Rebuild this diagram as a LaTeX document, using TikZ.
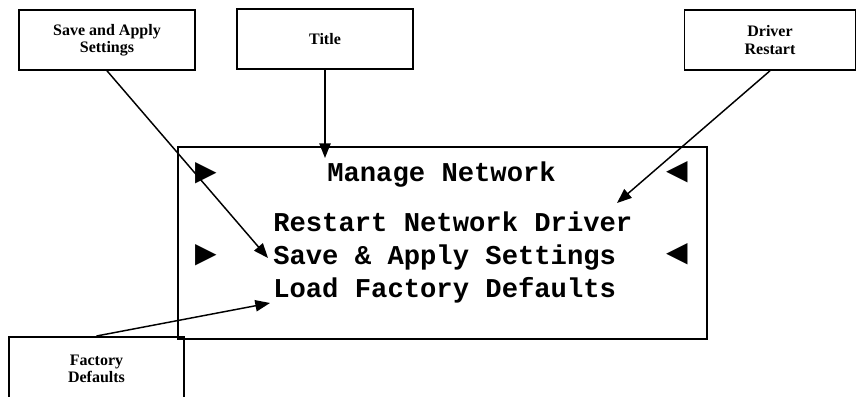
\documentclass[tikz,border=0pt]{standalone}
\usepackage{fontspec}
\setmainfont{Liberation Serif}
\newfontfamily\lcdfont{Liberation Mono}
\newfontfamily\symfont{DejaVu Sans}
\usetikzlibrary{arrows.meta,positioning}

\begin{document}
\begin{tikzpicture}[x=0.75pt,y=-0.75pt,>={Triangle[length=11pt,width=8.5pt]},
  callout/.style={draw,line width=1.2pt,align=center,inner sep=0pt,
              font=\bfseries\fontsize{12}{13}\selectfont},
  lcd/.style={anchor=base west,inner sep=0pt,
              font=\lcdfont\bfseries\fontsize{20.4}{22}\selectfont},
  ptr/.style={inner sep=0pt,font=\symfont\fontsize{21}{21}\selectfont}]
\useasboundingbox (0,0) rectangle (856,396);
% callout boxes
\node (save) [callout,minimum width=132pt,minimum height=45pt] at (107,40)
      {Save and Apply\\ Settings};
\node (title) [callout,minimum width=132pt,minimum height=45pt] at (325,39) {Title};
\node (drv) [callout,minimum width=128pt,minimum height=45pt] at (770,40)
      {Driver\\ Restart};
\node (fac) [callout,minimum width=131pt,minimum height=48pt,anchor=north]
      at (96.5,336) {Factory\\ Defaults};
% screen
\node (scr) [draw,line width=1.2pt,inner sep=0pt,minimum width=396.75pt,
      minimum height=144pt,anchor=north west] at (177,146) {};
\node (menu) [lcd] at (327,181) {Manage Network};
\node (rst)  [lcd] at (273,231) {Restart Network Driver};
\node (sav)  [lcd] at (273,264) {Save \& Apply Settings};
\node (ld)   [lcd] at (273,297) {Load Factory Defaults};
\node (l1) [ptr] at (206,173) {▶};
\node (r1) [ptr] at (677,172) {◀};
\node (l2) [ptr] at (206,255) {▶};
\node (r2) [ptr] at (677,254) {◀};
% pointers
\coordinate (tsav) at (268,258);
\coordinate (ttl) at (325,158);
\coordinate (tdrv) at (617,203);
\coordinate (tfac) at (270,303);
\draw[->,line width=1.1pt] (save.south) -- (tsav);
\draw[->,line width=1.1pt] (title.south) -- (ttl);
\draw[->,line width=1.1pt] (drv.south) -- (tdrv);
\draw[->,line width=1.1pt] (fac.north) -- (tfac);
\end{tikzpicture}
\end{document}
